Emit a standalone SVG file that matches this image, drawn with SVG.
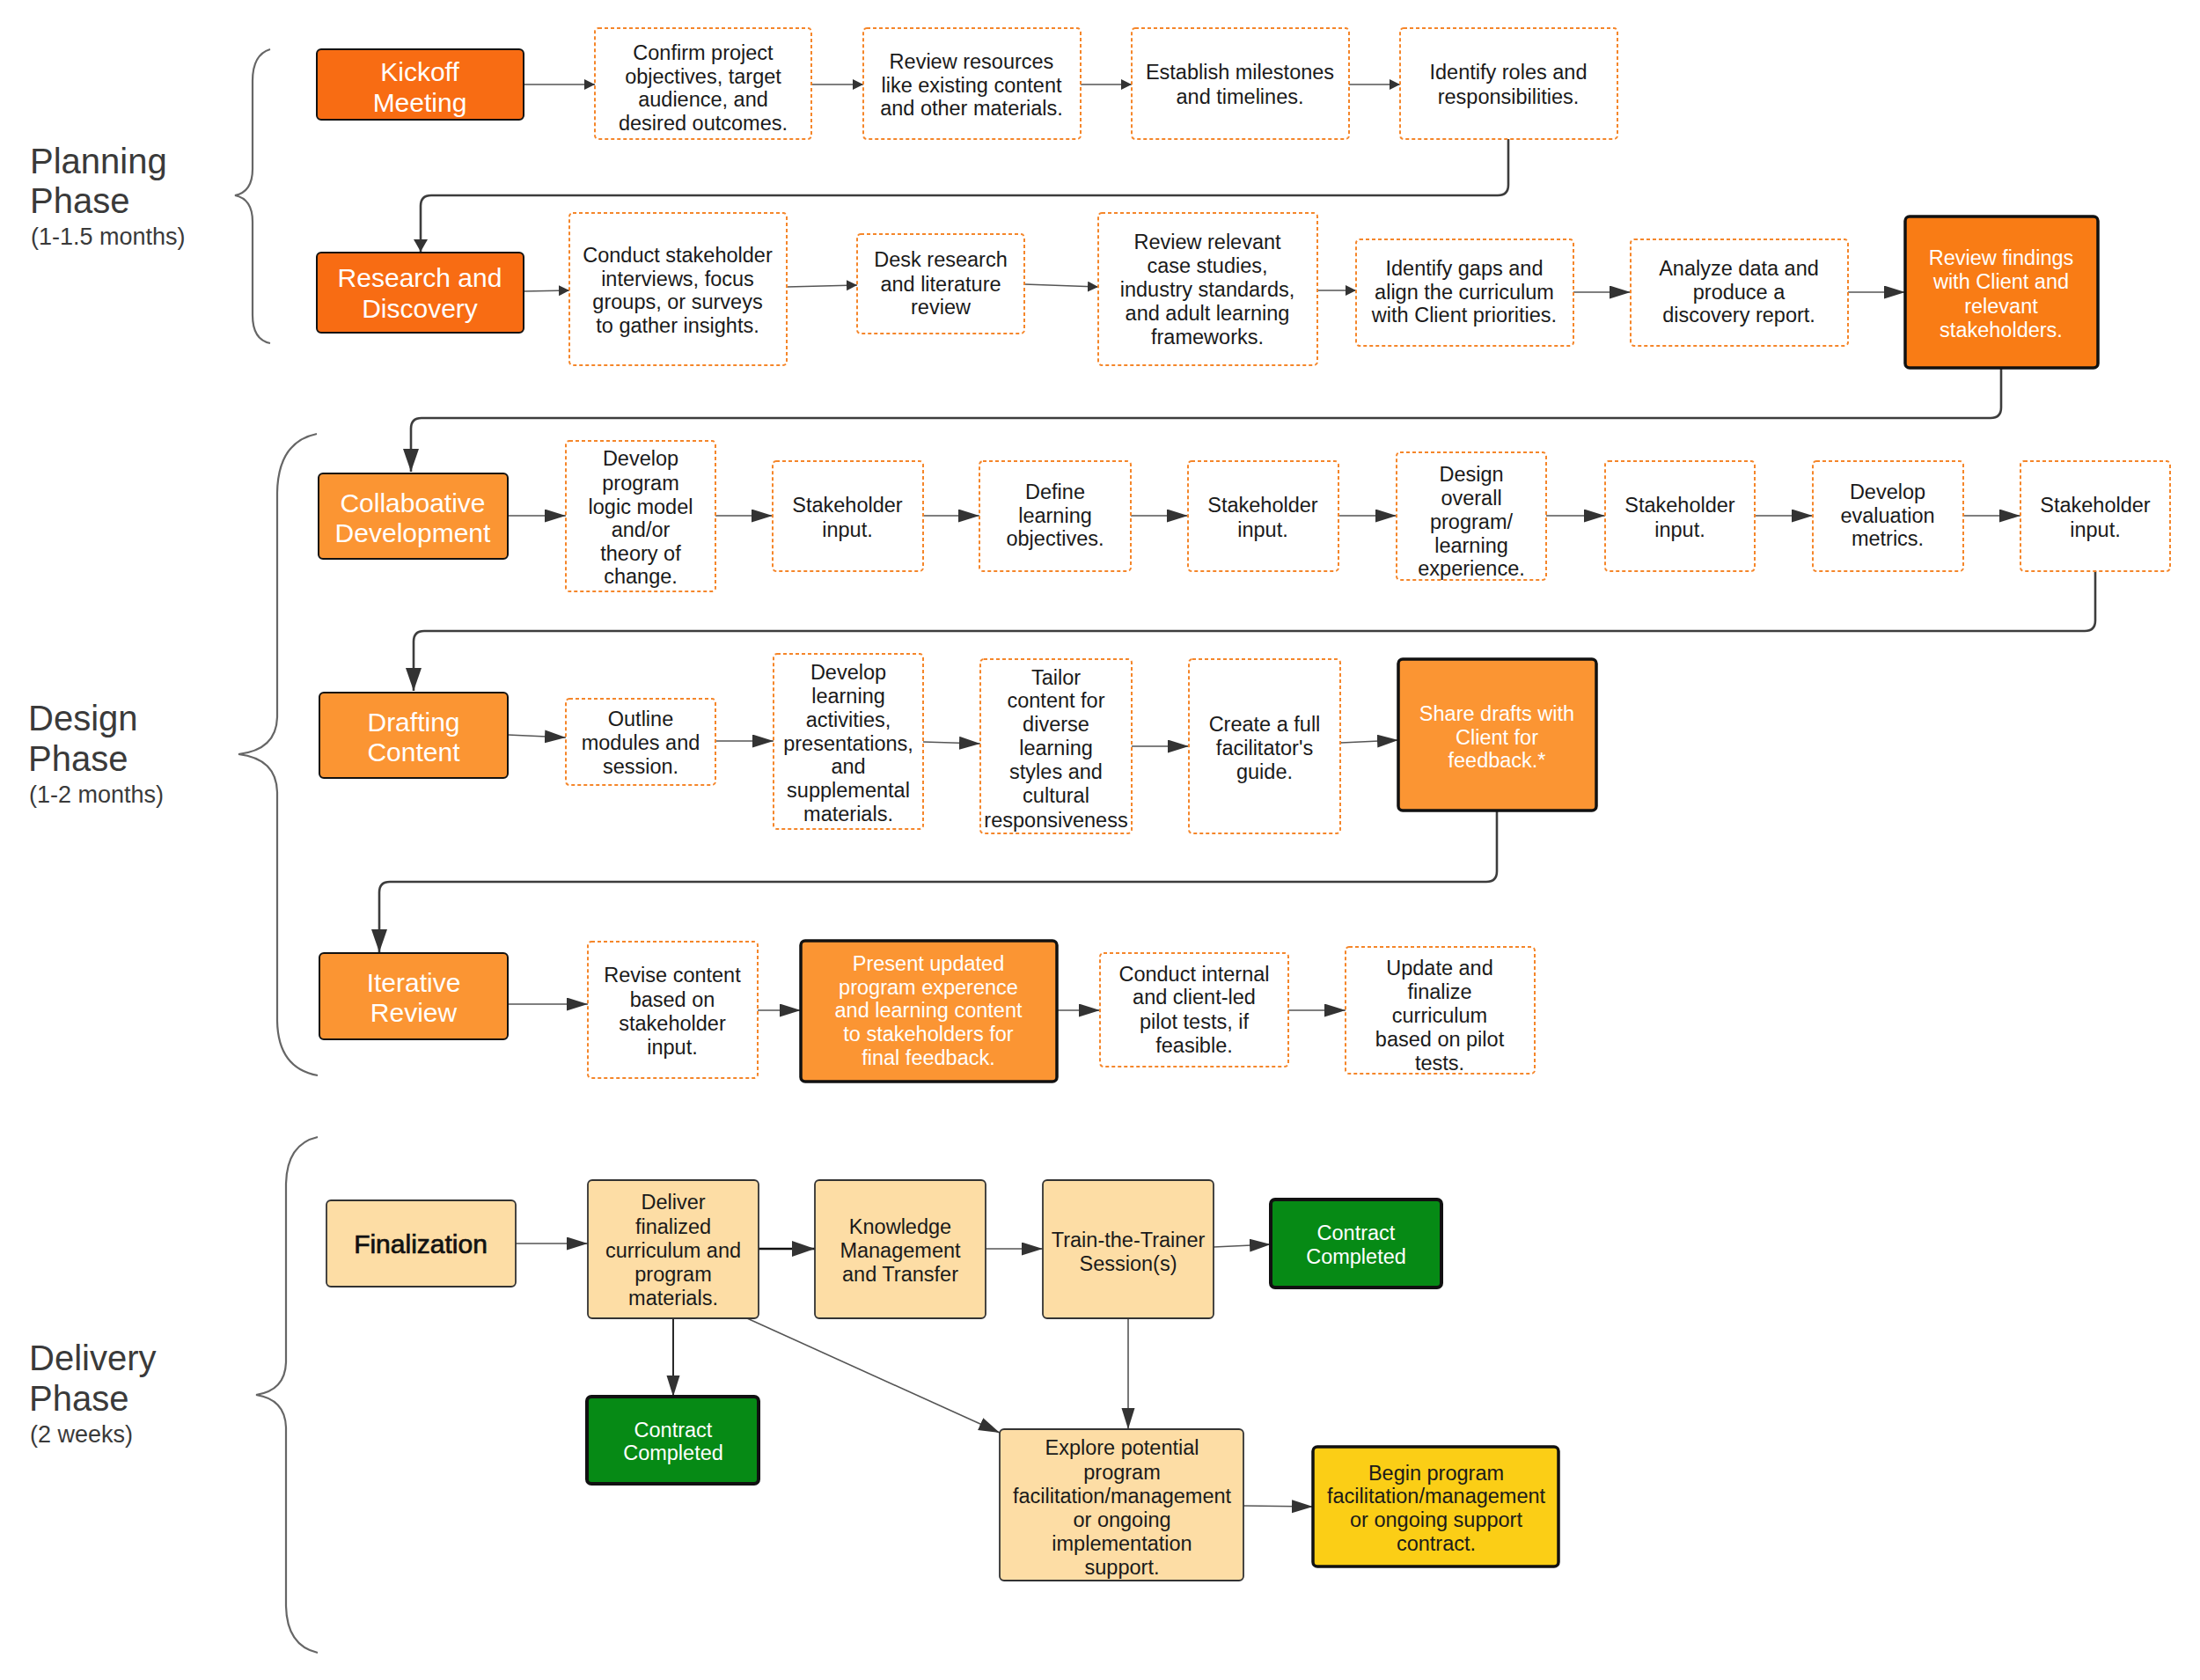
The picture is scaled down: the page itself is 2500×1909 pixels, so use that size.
<svg xmlns="http://www.w3.org/2000/svg" width="2500" height="1909" viewBox="0 0 2500 1909">
<style>
text{font-family:'Liberation Sans',Arial,sans-serif;text-anchor:middle}
.t{font-size:23.5px;fill:#1a1a1a}
.tw{font-size:23.5px;fill:#ffffff}
.big{font-size:30px;fill:#ffffff}
.ph{font-size:40px;fill:#3a3a3a;text-anchor:start}
.sub{font-size:27px;fill:#3a3a3a;text-anchor:start}
.dash{fill:#ffffff;stroke:#F5862A;stroke-width:2;stroke-dasharray:4 3}
.o1{fill:#F86C13;stroke:#111;stroke-width:2}
.o2{fill:#FB9533;stroke:#111;stroke-width:2}
.o2k{fill:#FB9533;stroke:#111;stroke-width:3.5}
.o3k{fill:#F97C15;stroke:#111;stroke-width:3.5}
.pe{fill:#FDDDA5;stroke:#333;stroke-width:1.8}
.gr{fill:#068A15;stroke:#111;stroke-width:4}
.ye{fill:#FBCE16;stroke:#111;stroke-width:3.5}
.br{fill:none;stroke:#666;stroke-width:2.2}
.rt{fill:none;stroke:#3d3d3d;stroke-width:2.6}
.ln{fill:none;stroke:#555;stroke-width:1.6}
.lk{fill:none;stroke:#111;stroke-width:2.4}
</style>
<defs>
<marker id="aS" markerUnits="userSpaceOnUse" markerWidth="13" markerHeight="13" refX="12" refY="6" orient="auto"><path d="M0,0 L12,6 L0,12 z" fill="#333"/></marker>
<marker id="aL" markerUnits="userSpaceOnUse" markerWidth="25" markerHeight="16" refX="24" refY="7.5" orient="auto"><path d="M0,0 L24,7.5 L0,15 z" fill="#333"/></marker>
<marker id="aR" markerUnits="userSpaceOnUse" markerWidth="15" markerHeight="17" refX="14" refY="8" orient="auto"><path d="M0,0 L14,8 L0,16 z" fill="#333"/></marker>
<marker id="aT" markerUnits="userSpaceOnUse" markerWidth="27" markerHeight="19" refX="26" refY="9" orient="auto"><path d="M0,0 L26,9 L0,18 z" fill="#333"/></marker>
</defs>
<rect width="2500" height="1909" fill="#ffffff"/>

<g id="labels">
<path class="br" d="M307 56 Q287 62 287 92 V192 Q287 218 267 222 Q287 226 287 252 V358 Q287 386 307 390"/>
<text class="ph" x="34" y="197">Planning</text>
<text class="ph" x="34" y="242">Phase</text>
<text class="sub" x="35" y="278">(1-1.5 months)</text>
<path class="br" d="M360 493 Q316 502 315 560 V815 Q314 852 271 857 Q314 862 315 900 V1160 Q316 1214 361 1222"/>
<text class="ph" x="32" y="830">Design</text>
<text class="ph" x="32" y="876">Phase</text>
<text class="sub" x="33" y="912">(1-2 months)</text>
<path class="br" d="M361 1292 Q326 1300 325 1345 V1548 Q324 1580 291 1585 Q324 1590 325 1622 V1825 Q326 1870 361 1878"/>
<text class="ph" x="33" y="1557">Delivery</text>
<text class="ph" x="33" y="1603">Phase</text>
<text class="sub" x="34" y="1639">(2 weeks)</text>
</g>

<g id="connectors">
<path class="rt" d="M1714 158 V210 Q1714 222 1702 222 H490 Q478 222 478 234 V286" marker-end="url(#aR)"/>
<path class="rt" d="M2274 418 V463 Q2274 475 2262 475 H479 Q467 475 467 487 V536" marker-end="url(#aT)"/>
<path class="rt" d="M2381 649 V705 Q2381 717 2369 717 H482 Q470 717 470 729 V785" marker-end="url(#aT)"/>
<path class="rt" d="M1701 921 V990 Q1701 1002 1689 1002 H443 Q431 1002 431 1014 V1082" marker-end="url(#aT)"/>
<path class="ln" d="M595 96 H676" marker-end="url(#aS)"/>
<path class="ln" d="M922 96 H981" marker-end="url(#aS)"/>
<path class="ln" d="M1228 96 H1286" marker-end="url(#aS)"/>
<path class="ln" d="M1533 96 H1591" marker-end="url(#aS)"/>
<path class="ln" d="M595 331 L647 330" marker-end="url(#aS)"/>
<path class="ln" d="M894 326 L974 324" marker-end="url(#aS)"/>
<path class="ln" d="M1164 323 L1248 326" marker-end="url(#aS)"/>
<path class="ln" d="M1497 330 H1541" marker-end="url(#aS)"/>
<path class="ln" d="M1788 332 H1853" marker-end="url(#aL)"/>
<path class="ln" d="M2100 332 H2165" marker-end="url(#aL)"/>
<path class="ln" d="M577 586 H643" marker-end="url(#aL)"/>
<path class="ln" d="M813 586 H878" marker-end="url(#aL)"/>
<path class="ln" d="M1049 586 H1113" marker-end="url(#aL)"/>
<path class="ln" d="M1285 586 H1350" marker-end="url(#aL)"/>
<path class="ln" d="M1521 586 H1587" marker-end="url(#aL)"/>
<path class="ln" d="M1757 586 H1824" marker-end="url(#aL)"/>
<path class="ln" d="M1994 586 H2060" marker-end="url(#aL)"/>
<path class="ln" d="M2231 586 H2296" marker-end="url(#aL)"/>
<path class="ln" d="M577 835 L643 838" marker-end="url(#aL)"/>
<path class="ln" d="M813 842 H879" marker-end="url(#aL)"/>
<path class="ln" d="M1049 843 L1114 845" marker-end="url(#aL)"/>
<path class="ln" d="M1286 848 H1351" marker-end="url(#aL)"/>
<path class="ln" d="M1523 844 L1589 841" marker-end="url(#aL)"/>
<path class="ln" d="M577 1141 H668" marker-end="url(#aL)"/>
<path class="ln" d="M861 1148 H910" marker-end="url(#aL)"/>
<path class="ln" d="M1201 1148 H1250" marker-end="url(#aL)"/>
<path class="ln" d="M1464 1148 H1529" marker-end="url(#aL)"/>
<path class="ln" d="M586 1413 H668" marker-end="url(#aL)"/>
<path class="lk" d="M862 1419 H926" marker-end="url(#aT)"/>
<path class="ln" d="M1120 1419 H1185" marker-end="url(#aL)"/>
<path class="ln" d="M1379 1417 L1444 1414" marker-end="url(#aL)"/>
<path class="lk" style="stroke-width:1.8" d="M765 1498 V1587" marker-end="url(#aL)"/>
<path class="ln" d="M849 1498 L1136 1628" marker-end="url(#aL)"/>
<path class="ln" d="M1282 1498 V1624" marker-end="url(#aL)"/>
<path class="ln" d="M1413 1711 L1492 1712" marker-end="url(#aL)"/>
</g>

<g id="kickoff"><rect class="o1" x="360" y="56" width="235" height="80" rx="5"/><text class="big"><tspan x="477" y="92">Kickoff</tspan><tspan x="477" y="127">Meeting</tspan></text></g>
<g id="confirm"><rect class="dash" x="676" y="32" width="246" height="126" rx="4"/><text class="t"><tspan x="799" y="68">Confirm project</tspan><tspan x="799" y="95">objectives, target</tspan><tspan x="799" y="121">audience, and</tspan><tspan x="799" y="148">desired outcomes.</tspan></text></g>
<g id="review-resources"><rect class="dash" x="981" y="32" width="247" height="126" rx="4"/><text class="t"><tspan x="1104" y="78">Review resources</tspan><tspan x="1104" y="105">like existing content</tspan><tspan x="1104" y="131">and other materials.</tspan></text></g>
<g id="milestones"><rect class="dash" x="1286" y="32" width="247" height="126" rx="4"/><text class="t"><tspan x="1409" y="90">Establish milestones</tspan><tspan x="1409" y="118">and timelines.</tspan></text></g>
<g id="roles"><rect class="dash" x="1591" y="32" width="247" height="126" rx="4"/><text class="t"><tspan x="1714" y="90">Identify roles and</tspan><tspan x="1714" y="118">responsibilities.</tspan></text></g>

<g id="research"><rect class="o1" x="360" y="287" width="235" height="91" rx="5"/><text class="big"><tspan x="477" y="326">Research and</tspan><tspan x="477" y="361">Discovery</tspan></text></g>
<g id="interviews"><rect class="dash" x="647" y="242" width="247" height="173" rx="4"/><text class="t"><tspan x="770" y="298">Conduct stakeholder</tspan><tspan x="770" y="325">interviews, focus</tspan><tspan x="770" y="351">groups, or surveys</tspan><tspan x="770" y="378">to gather insights.</tspan></text></g>
<g id="desk"><rect class="dash" x="974" y="266" width="190" height="113" rx="4"/><text class="t"><tspan x="1069" y="303">Desk research</tspan><tspan x="1069" y="331">and literature</tspan><tspan x="1069" y="357">review</tspan></text></g>
<g id="case-studies"><rect class="dash" x="1248" y="242" width="249" height="173" rx="4"/><text class="t"><tspan x="1372" y="283">Review relevant</tspan><tspan x="1372" y="310">case studies,</tspan><tspan x="1372" y="337">industry standards,</tspan><tspan x="1372" y="364">and adult learning</tspan><tspan x="1372" y="391">frameworks.</tspan></text></g>
<g id="gaps"><rect class="dash" x="1541" y="272" width="247" height="121" rx="4"/><text class="t"><tspan x="1664" y="313">Identify gaps and</tspan><tspan x="1664" y="340">align the curriculum</tspan><tspan x="1664" y="366">with Client priorities.</tspan></text></g>
<g id="analyze"><rect class="dash" x="1853" y="272" width="247" height="121" rx="4"/><text class="t"><tspan x="1976" y="313">Analyze data and</tspan><tspan x="1976" y="340">produce a</tspan><tspan x="1976" y="366">discovery report.</tspan></text></g>
<g id="review-findings"><rect class="o3k" x="2165" y="246" width="219" height="172" rx="5"/><text class="tw"><tspan x="2274" y="301">Review findings</tspan><tspan x="2274" y="328">with Client and</tspan><tspan x="2274" y="356">relevant</tspan><tspan x="2274" y="383">stakeholders.</tspan></text></g>

<g id="collab"><rect class="o2" x="362" y="538" width="215" height="97" rx="5"/><text class="big"><tspan x="469" y="582">Collaboative</tspan><tspan x="469" y="616">Development</tspan></text></g>
<g id="logic-model"><rect class="dash" x="643" y="501" width="170" height="171" rx="4"/><text class="t"><tspan x="728" y="529">Develop</tspan><tspan x="728" y="557">program</tspan><tspan x="728" y="584">logic model</tspan><tspan x="728" y="610">and/or</tspan><tspan x="728" y="637">theory of</tspan><tspan x="728" y="663">change.</tspan></text></g>
<g id="stakeholder-1"><rect class="dash" x="878" y="524" width="171" height="125" rx="4"/><text class="t"><tspan x="963" y="582">Stakeholder</tspan><tspan x="963" y="610">input.</tspan></text></g>
<g id="objectives"><rect class="dash" x="1113" y="524" width="172" height="125" rx="4"/><text class="t"><tspan x="1199" y="567">Define</tspan><tspan x="1199" y="594">learning</tspan><tspan x="1199" y="620">objectives.</tspan></text></g>
<g id="stakeholder-2"><rect class="dash" x="1350" y="524" width="171" height="125" rx="4"/><text class="t"><tspan x="1435" y="582">Stakeholder</tspan><tspan x="1435" y="610">input.</tspan></text></g>
<g id="design-overall"><rect class="dash" x="1587" y="514" width="170" height="145" rx="4"/><text class="t"><tspan x="1672" y="547">Design</tspan><tspan x="1672" y="574">overall</tspan><tspan x="1672" y="601">program/</tspan><tspan x="1672" y="628">learning</tspan><tspan x="1672" y="654">experience.</tspan></text></g>
<g id="stakeholder-3"><rect class="dash" x="1824" y="524" width="170" height="125" rx="4"/><text class="t"><tspan x="1909" y="582">Stakeholder</tspan><tspan x="1909" y="610">input.</tspan></text></g>
<g id="metrics"><rect class="dash" x="2060" y="524" width="171" height="125" rx="4"/><text class="t"><tspan x="2145" y="567">Develop</tspan><tspan x="2145" y="594">evaluation</tspan><tspan x="2145" y="620">metrics.</tspan></text></g>
<g id="stakeholder-4"><rect class="dash" x="2296" y="524" width="170" height="125" rx="4"/><text class="t"><tspan x="2381" y="582">Stakeholder</tspan><tspan x="2381" y="610">input.</tspan></text></g>

<g id="drafting"><rect class="o2" x="363" y="787" width="214" height="97" rx="5"/><text class="big"><tspan x="470" y="831">Drafting</tspan><tspan x="470" y="865">Content</tspan></text></g>
<g id="outline"><rect class="dash" x="643" y="794" width="170" height="98" rx="4"/><text class="t"><tspan x="728" y="825">Outline</tspan><tspan x="728" y="852">modules and</tspan><tspan x="728" y="879">session.</tspan></text></g>
<g id="activities"><rect class="dash" x="879" y="743" width="170" height="199" rx="4"/><text class="t"><tspan x="964" y="772">Develop</tspan><tspan x="964" y="799">learning</tspan><tspan x="964" y="826">activities,</tspan><tspan x="964" y="853">presentations,</tspan><tspan x="964" y="879">and</tspan><tspan x="964" y="906">supplemental</tspan><tspan x="964" y="933">materials.</tspan></text></g>
<g id="tailor"><rect class="dash" x="1114" y="749" width="172" height="198" rx="4"/><text class="t"><tspan x="1200" y="778">Tailor</tspan><tspan x="1200" y="804">content for</tspan><tspan x="1200" y="831">diverse</tspan><tspan x="1200" y="858">learning</tspan><tspan x="1200" y="885">styles and</tspan><tspan x="1200" y="912">cultural</tspan><tspan x="1200" y="940">responsiveness</tspan></text></g>
<g id="guide"><rect class="dash" x="1351" y="749" width="172" height="198" rx="4"/><text class="t"><tspan x="1437" y="831">Create a full</tspan><tspan x="1437" y="858">facilitator's</tspan><tspan x="1437" y="885">guide.</tspan></text></g>
<g id="share-drafts"><rect class="o2k" x="1589" y="749" width="225" height="172" rx="5"/><text class="tw"><tspan x="1701" y="819">Share drafts with</tspan><tspan x="1701" y="846">Client for</tspan><tspan x="1701" y="872">feedback.*</tspan></text></g>

<g id="iterative"><rect class="o2" x="363" y="1083" width="214" height="98" rx="5"/><text class="big"><tspan x="470" y="1127">Iterative</tspan><tspan x="470" y="1161">Review</tspan></text></g>
<g id="revise"><rect class="dash" x="668" y="1070" width="193" height="155" rx="4"/><text class="t"><tspan x="764" y="1116">Revise content</tspan><tspan x="764" y="1144">based on</tspan><tspan x="764" y="1171">stakeholder</tspan><tspan x="764" y="1198">input.</tspan></text></g>
<g id="present"><rect class="o2k" x="910" y="1069" width="291" height="160" rx="5"/><text class="tw"><tspan x="1055" y="1103">Present updated</tspan><tspan x="1055" y="1130">program experence</tspan><tspan x="1055" y="1156">and learning content</tspan><tspan x="1055" y="1183">to stakeholders for</tspan><tspan x="1055" y="1210">final feedback.</tspan></text></g>
<g id="pilot"><rect class="dash" x="1250" y="1083" width="214" height="129" rx="4"/><text class="t"><tspan x="1357" y="1115">Conduct internal</tspan><tspan x="1357" y="1141">and client-led</tspan><tspan x="1357" y="1169">pilot tests, if</tspan><tspan x="1357" y="1196">feasible.</tspan></text></g>
<g id="update"><rect class="dash" x="1529" y="1076" width="215" height="144" rx="4"/><text class="t"><tspan x="1636" y="1108">Update and</tspan><tspan x="1636" y="1135">finalize</tspan><tspan x="1636" y="1162">curriculum</tspan><tspan x="1636" y="1189">based on pilot</tspan><tspan x="1636" y="1216">tests.</tspan></text></g>

<g id="finalization"><rect class="pe" x="371" y="1364" width="215" height="98" rx="5"/><text style="font-size:30px;fill:#111;stroke:#111;stroke-width:0.7" x="478" y="1424">Finalization</text></g>
<g id="deliver"><rect class="pe" x="668" y="1341" width="194" height="157" rx="5"/><text class="t"><tspan x="765" y="1374">Deliver</tspan><tspan x="765" y="1402">finalized</tspan><tspan x="765" y="1429">curriculum and</tspan><tspan x="765" y="1456">program</tspan><tspan x="765" y="1483">materials.</tspan></text></g>
<g id="knowledge"><rect class="pe" x="926" y="1341" width="194" height="157" rx="5"/><text class="t"><tspan x="1023" y="1402">Knowledge</tspan><tspan x="1023" y="1429">Management</tspan><tspan x="1023" y="1456">and Transfer</tspan></text></g>
<g id="train"><rect class="pe" x="1185" y="1341" width="194" height="157" rx="5"/><text class="t"><tspan x="1282" y="1417">Train-the-Trainer</tspan><tspan x="1282" y="1444">Session(s)</tspan></text></g>
<g id="contract-1"><rect class="gr" x="1444" y="1363" width="194" height="100" rx="5"/><text class="tw"><tspan x="1541" y="1409">Contract</tspan><tspan x="1541" y="1436">Completed</tspan></text></g>
<g id="contract-2"><rect class="gr" x="667" y="1587" width="195" height="99" rx="5"/><text class="tw"><tspan x="765" y="1633">Contract</tspan><tspan x="765" y="1659">Completed</tspan></text></g>
<g id="explore"><rect class="pe" x="1136" y="1624" width="277" height="172" rx="5"/><text class="t"><tspan x="1275" y="1653">Explore potential</tspan><tspan x="1275" y="1681">program</tspan><tspan x="1275" y="1708">facilitation/management</tspan><tspan x="1275" y="1735">or ongoing</tspan><tspan x="1275" y="1762">implementation</tspan><tspan x="1275" y="1789">support.</tspan></text></g>
<g id="begin"><rect class="ye" x="1492" y="1644" width="279" height="136" rx="5"/><text class="t"><tspan x="1632" y="1682">Begin program</tspan><tspan x="1632" y="1708">facilitation/management</tspan><tspan x="1632" y="1735">or ongoing support</tspan><tspan x="1632" y="1762">contract.</tspan></text></g>
</svg>
